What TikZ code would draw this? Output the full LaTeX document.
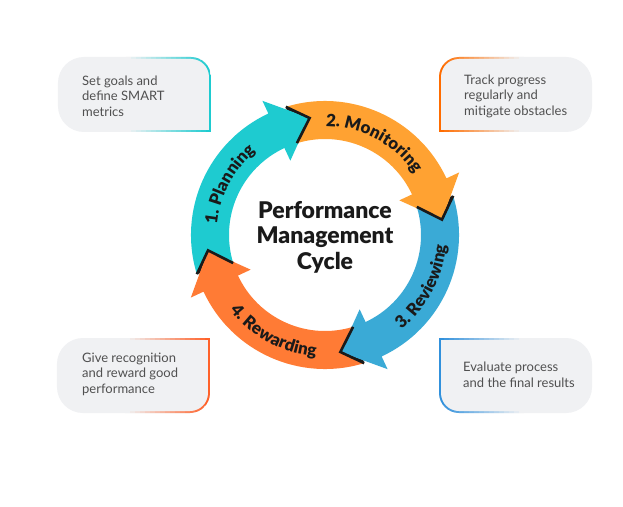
\documentclass[tikz,border=0pt]{standalone}
\usepackage{fontspec}
\setmainfont{Lato}
\newfontfamily\heavyfont{Lato Black}
\usetikzlibrary{decorations.text}
\definecolor{planteal}{HTML}{1ECBD0}
\definecolor{monorange}{HTML}{FFA232}
\definecolor{revblue}{HTML}{3AAAD6}
\definecolor{rewardorange}{HTML}{FF7B35}
\definecolor{boxgray}{HTML}{F0F1F3}
\definecolor{textgray}{HTML}{505050}
\definecolor{inkblack}{HTML}{1A1A1A}
\newcommand{\labelfont}{\fontsize{17}{18}\selectfont\heavyfont\color{inkblack}}
% rounded note box, square corner at #1
\newcommand{\notebox}[4]{%
  \begin{scope}[shift={#1},xscale=#2,yscale=#3]
    \fill[boxgray] (0,0) -- (0,55) arc[start angle=0,end angle=90,radius=20]
      -- (-127,75) arc[start angle=90,end angle=180,radius=26]
      -- (-153,26) arc[start angle=180,end angle=270,radius=26] -- cycle;
    \begin{scope}
      \clip (0,0) -- (0,55) arc[start angle=0,end angle=90,radius=20]
        -- (-127,75) arc[start angle=90,end angle=180,radius=26]
        -- (-153,26) arc[start angle=180,end angle=270,radius=26] -- cycle;
      \foreach \i in {0,...,16}{
        \pgfmathtruncatemacro\p{\i*100/16}
        \fill[#4!\p!boxgray] ({-85+\i*5},-1) rectangle ++(5.4,77);
      }
    \end{scope}
    \fill[boxgray] (-2,2) -- (-2,55) arc[start angle=0,end angle=90,radius=18]
      -- (-127,73) arc[start angle=90,end angle=180,radius=24]
      -- (-151,26) arc[start angle=180,end angle=270,radius=24] -- cycle;
  \end{scope}}
\tikzset{
  ringlabel/.style={decorate,decoration={text along path,text align=center,
    text={|\labelfont|#1}}},
  notch/.style={draw=inkblack,line width=2.6pt,line join=miter},
  boxtext/.style={anchor=west,align=left,inner sep=0pt,
    font=\fontsize{13}{15.5}\selectfont,text=textgray}
}
\begin{document}
\begin{tikzpicture}[x=1pt,y=1pt]
\fill[white] (-325,-271) rectangle (298,235);
\useasboundingbox (-325,-271) rectangle (298,235);

% note boxes
\notebox{(-114,103)}{1}{1}{planteal}
\notebox{(114,103)}{-1}{1}{orange!85!red}
\notebox{(-115,-103)}{1}{-1}{rewardorange!80!red}
\notebox{(114,-103)}{-1}{-1}{revblue!85!blue}
\node[boxtext] (goals) at (-243,139) {Set goals and\\define SMART\\metrics};
\node[boxtext] (track) at (139,139) {Track progress\\regularly and\\mitigate obstacles};
\node[boxtext] (reward) at (-243,-139) {Give recognition\\and reward good\\performance};
\node[boxtext] (evaluate) at (138,-140) {Evaluate process\\and the final results};

% cycle arrows
\foreach \t in {197,107,17,-73}
  \fill[inkblack] (\t:134) -- ({\t-9.5}:118) -- (\t:96) -- cycle;
\foreach \t/\c in {197/planteal,107/monorange,17/revblue,-73/rewardorange}
  \fill[\c] (\t:134) arc[start angle=\t,end angle=\t-82,radius=134]
    -- ({\t-82}:148) -- ({\t-99.5}:118) -- ({\t-82}:82)
    -- ({\t-82}:96) arc[start angle=\t-82,end angle=\t,radius=96]
    -- ({\t-9.5}:118) -- cycle;
\foreach \t in {197,107,17,-73}
  \draw[notch] (\t:134) -- ({\t-9.5}:118) -- (\t:96);

\path[ringlabel={1. Planning}] (197:108.5) arc[start angle=197,end angle=107,radius=108.5];
\path[ringlabel={2. Monitoring}] (107:108.5) arc[start angle=107,end angle=17,radius=108.5];
\path[ringlabel={3. Reviewing}] (-73:121.5) arc[start angle=-73,end angle=17,radius=121.5];
\path[ringlabel={4. Rewarding}] (-163:121.5) arc[start angle=-163,end angle=-73,radius=121.5];

\node[font=\fontsize{23}{25.5}\selectfont\heavyfont,align=center,text=inkblack]
  (title) at (0,-2) {Performance\\Management\\Cycle};
\end{tikzpicture}
\end{document}
